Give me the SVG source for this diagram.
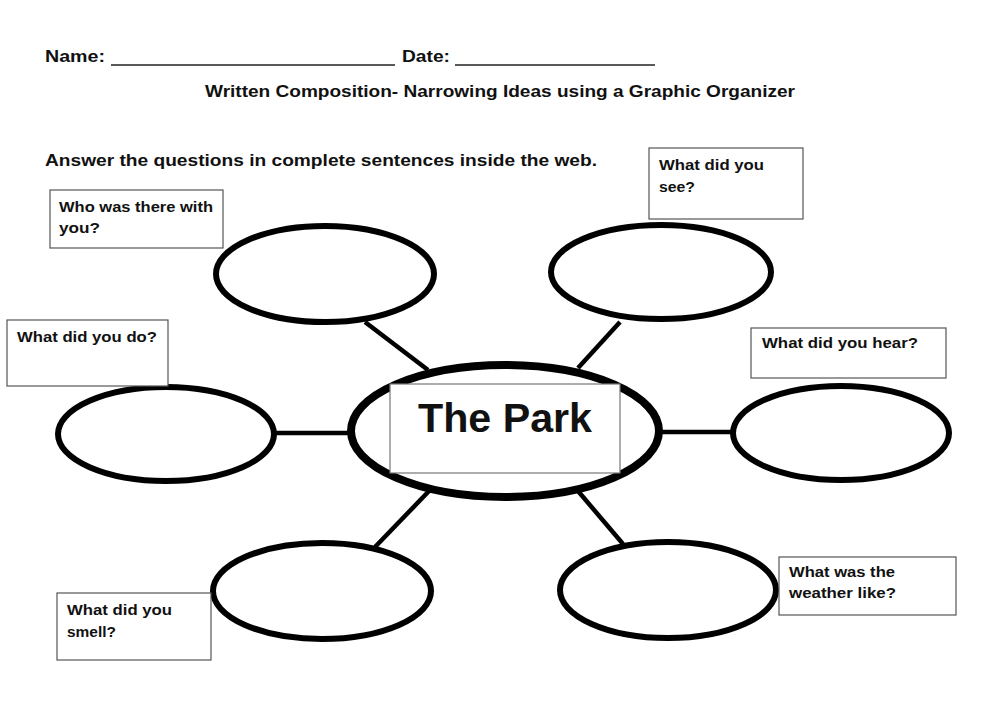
<svg xmlns="http://www.w3.org/2000/svg" width="1000" height="707" viewBox="0 0 1000 707">
<style>
text{font-family:"Liberation Sans",Arial,sans-serif;font-weight:bold;fill:#111;}
.hdr{font-size:17px;}
.q{font-size:15.5px;}
.bubble{fill:#fff;stroke:#000;stroke-width:6;}
.qbox{fill:#fff;stroke:#555;stroke-width:1.2;}
.conn line{stroke:#000;stroke-width:4.5;}
.ul{stroke:#222;stroke-width:1.3;}
</style>
<rect width="1000" height="707" fill="#fff"/>
<g id="header">
<text class="hdr" x="45" y="62" textLength="60" lengthAdjust="spacingAndGlyphs">Name:</text>
<line class="ul" x1="111" y1="65" x2="395" y2="65"/>
<text class="hdr" x="402" y="62" textLength="48" lengthAdjust="spacingAndGlyphs">Date:</text>
<line class="ul" x1="455" y1="65" x2="655" y2="65"/>
<text class="hdr" x="205" y="97" textLength="590" lengthAdjust="spacingAndGlyphs">Written Composition- Narrowing Ideas using a Graphic Organizer</text>
<text class="hdr" x="45" y="166" textLength="552" lengthAdjust="spacingAndGlyphs">Answer the questions in complete sentences inside the web.</text>
</g>
<g id="connectors" class="conn">
<line x1="365" y1="322" x2="428" y2="370"/>
<line x1="620" y1="322" x2="578" y2="368"/>
<line x1="276" y1="433" x2="350" y2="433"/>
<line x1="660" y1="432" x2="732" y2="432"/>
<line x1="430" y1="490" x2="375" y2="547"/>
<line x1="578" y1="491" x2="623" y2="544"/>
</g>
<g id="center">
<ellipse cx="505" cy="431" rx="154" ry="66" fill="#fff" stroke="#000" stroke-width="8"/>
<rect x="390" y="384" width="230" height="89" fill="#fff" stroke="#777" stroke-width="1.2"/>
<text x="418" y="432" font-size="41" textLength="174" lengthAdjust="spacingAndGlyphs">The Park</text>
</g>
<g id="who">
<ellipse class="bubble" cx="325" cy="274" rx="109" ry="48"/>
<rect class="qbox" x="50" y="190" width="173" height="58"/>
<text class="q" x="59" y="212" textLength="154" lengthAdjust="spacingAndGlyphs">Who was there with</text>
<text class="q" x="59" y="233" textLength="41" lengthAdjust="spacingAndGlyphs">you?</text>
</g>
<g id="see">
<ellipse class="bubble" cx="661" cy="272" rx="110" ry="47"/>
<rect class="qbox" x="649" y="148" width="154" height="71"/>
<text class="q" x="659" y="170" textLength="105" lengthAdjust="spacingAndGlyphs">What did you</text>
<text class="q" x="659" y="192" textLength="36" lengthAdjust="spacingAndGlyphs">see?</text>
</g>
<g id="do">
<ellipse class="bubble" cx="166" cy="434" rx="108" ry="47"/>
<rect class="qbox" x="7" y="320" width="161" height="66"/>
<text class="q" x="17" y="342" textLength="140" lengthAdjust="spacingAndGlyphs">What did you do?</text>
</g>
<g id="hear">
<ellipse class="bubble" cx="841" cy="433" rx="108" ry="47"/>
<rect class="qbox" x="751" y="328" width="195" height="50"/>
<text class="q" x="762" y="348" textLength="156" lengthAdjust="spacingAndGlyphs">What did you hear?</text>
</g>
<g id="smell">
<ellipse class="bubble" cx="322" cy="591" rx="109" ry="48"/>
<rect class="qbox" x="57" y="593" width="154" height="67"/>
<text class="q" x="67" y="615" textLength="105" lengthAdjust="spacingAndGlyphs">What did you</text>
<text class="q" x="67" y="637" textLength="49" lengthAdjust="spacingAndGlyphs">smell?</text>
</g>
<g id="weather">
<ellipse class="bubble" cx="668" cy="590" rx="108" ry="48"/>
<rect class="qbox" x="779" y="557" width="177" height="58"/>
<text class="q" x="789" y="577" textLength="106" lengthAdjust="spacingAndGlyphs">What was the</text>
<text class="q" x="789" y="598" textLength="107" lengthAdjust="spacingAndGlyphs">weather like?</text>
</g>
</svg>
